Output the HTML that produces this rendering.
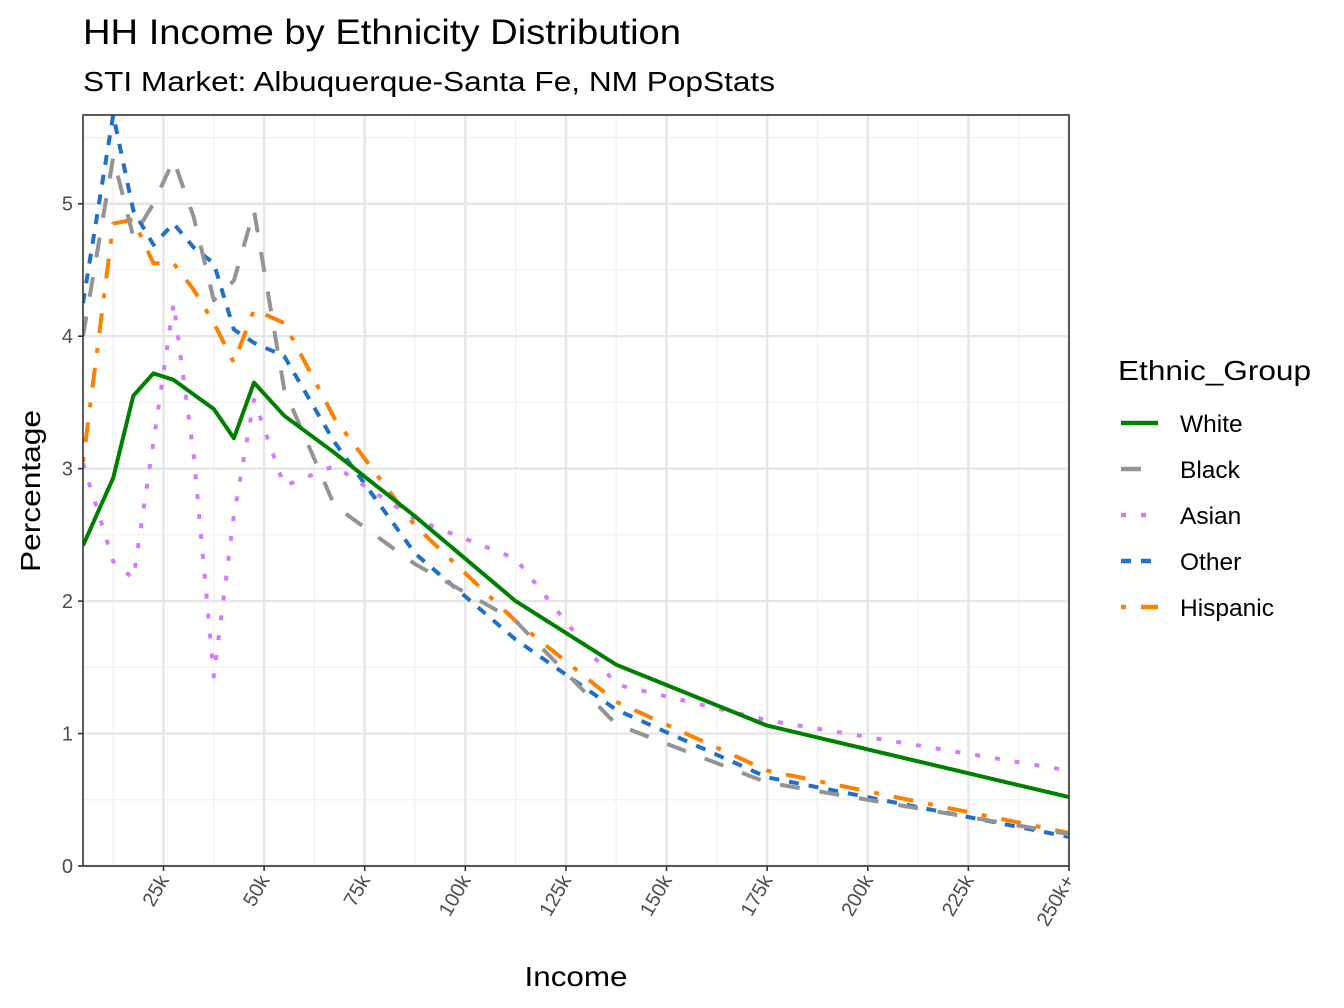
<!DOCTYPE html>
<html><head><meta charset="utf-8"><style>
body{margin:0;background:#fff}
svg{display:block;font-family:"Liberation Sans",Arial,sans-serif}
</style></head><body>
<svg id="chart" width="1344" height="1008" viewBox="0 0 1344 1008">
<text x="83" y="44" font-size="35" textLength="598" lengthAdjust="spacingAndGlyphs" fill="#000">HH Income by Ethnicity Distribution</text>
<text x="83" y="91" font-size="28" textLength="692" lengthAdjust="spacingAndGlyphs" fill="#000">STI Market: Albuquerque-Santa Fe, NM PopStats</text>
<g id="grid"></g>
<g id="lines"></g>
<rect x="83" y="115" width="986" height="751" fill="none" stroke="#333" stroke-width="1.6"/>
<g id="axes"></g>
<text x="40" y="491" font-size="28" textLength="162" lengthAdjust="spacingAndGlyphs" text-anchor="middle" transform="rotate(-90 40 491)">Percentage</text>
<text x="576" y="986" font-size="28" textLength="103" lengthAdjust="spacingAndGlyphs" text-anchor="middle">Income</text>
<g id="legend">
<text x="1118" y="380" font-size="28" textLength="193" lengthAdjust="spacingAndGlyphs">Ethnic_Group</text>
</g>
</svg>
<script>
const incomes = [5,12.5,17.5,22.5,27.5,32.5,37.5,42.5,47.5,55,67.5,87.5,112.5,137.5,175,250];
const white = [2.42,2.93,3.55,3.72,3.67,3.56,3.45,3.23,3.65,3.40,3.12,2.64,2.0,1.52,1.06,0.52];
const black = [4.0,5.35,4.75,5.0,5.33,4.9,4.27,4.42,4.95,3.6,2.72,2.28,1.85,1.07,0.63,0.24];
const asian = [3.04,2.3,2.17,3.2,4.25,3.1,1.43,2.65,3.52,2.87,3.02,2.62,2.32,1.37,1.1,0.72];
const other = [4.25,5.67,4.95,4.69,4.85,4.67,4.55,4.05,3.95,3.85,3.2,2.36,1.71,1.18,0.67,0.22];
const hispanic = [3.05,4.85,4.88,4.55,4.55,4.35,4.1,3.8,4.2,4.1,3.38,2.57,1.85,1.24,0.72,0.25];
const yTicks = [0,1,2,3,4,5];
const xTicks = [25,50,75,100,125,150,175,200,225,250];
const xTickLabels = ["25k","50k","75k","100k","125k","150k","175k","200k","225k","250k+"];
const seriesNames = ["White","Black","Asian","Other","Hispanic"];

const NS="http://www.w3.org/2000/svg";
const X0=83,X1=1069,Y0=866,Y1=115;
const xMin=5,xMax=250,yMin=0,yMax=5.67;
const xs=v=>X0+(v-xMin)/(xMax-xMin)*(X1-X0);
const ys=v=>Y0-(v-yMin)/(yMax-yMin)*(Y0-Y1);
function mk(tag,attrs,parent){const e=document.createElementNS(NS,tag);for(const k in attrs)e.setAttribute(k,attrs[k]);parent.appendChild(e);return e;}

const grid=document.getElementById('grid');
mk('rect',{x:X0,y:Y1,width:X1-X0,height:Y0-Y1,fill:'#fff'},grid);
for(let i=0;i<yTicks.length;i++){const m=yTicks[i]+0.5;if(m<yMax){const l=mk('line',{x1:X0,x2:X1,y1:ys(m),y2:ys(m),stroke:'#f0f0f0','stroke-width':1.2},grid);

}}
for(let i=0;i<xTicks.length;i++){const m=xTicks[i]-12.5;const l=mk('line',{x1:xs(m),x2:xs(m),y1:Y1,y2:Y0,stroke:'#f0f0f0','stroke-width':1.2},grid);

}
yTicks.forEach(t=>{const l=mk('line',{x1:X0,x2:X1,y1:ys(t),y2:ys(t),stroke:'#e6e6e6','stroke-width':2.4},grid);

});
xTicks.forEach(t=>{const l=mk('line',{x1:xs(t),x2:xs(t),y1:Y1,y2:Y0,stroke:'#e6e6e6','stroke-width':2.4},grid);

});

const styles=[
 {c:'#008000',d:'none',v:white,n:'line-white'},
 {c:'#949494',d:'20 20',v:black,n:'line-black'},
 {c:'#d17dfa',d:'5 15',v:asian,n:'line-asian'},
 {c:'#1f70c8',d:'10 10',v:other,n:'line-other'},
 {c:'#ff8000',d:'5 15 20 15',v:hispanic,n:'line-hispanic'}];
const lines=document.getElementById('lines');
const clip=mk('clipPath',{id:'pc'},mk('defs',{},lines));
mk('rect',{x:X0,y:Y1,width:X1-X0,height:Y0-Y1},clip);
[...styles].reverse().forEach(s=>{
 const d=incomes.map((x,i)=>(i?'L':'M')+xs(x).toFixed(1)+' '+ys(s.v[i]).toFixed(1)).join(' ');
 const p=mk('path',{d:d,fill:'none',stroke:s.c,'stroke-width':4,'stroke-dasharray':s.d,'stroke-linejoin':'round','clip-path':'url(#pc)'},lines);
 
 
});

const axes=document.getElementById('axes');
yTicks.forEach(t=>{
 mk('line',{x1:X0-5,x2:X0,y1:ys(t),y2:ys(t),stroke:'#333','stroke-width':1.6},axes);
 const tx=mk('text',{x:X0-10,y:ys(t)+7,'font-size':20,'text-anchor':'end',fill:'#4d4d4d'},axes);
 tx.textContent=t;
 
 
});
xTicks.forEach((t,i)=>{
 const x=xs(t);
 mk('line',{x1:x,x2:x,y1:Y0,y2:Y0+5,stroke:'#333','stroke-width':1.6},axes);
 const tx=mk('text',{x:x+6,y:Y0+14,'font-size':20,'text-anchor':'end',fill:'#4d4d4d',transform:`rotate(-60 ${x+6} ${Y0+14})`},axes);
 tx.textContent=xTickLabels[i];
 
 
});

const lg=document.getElementById('legend');
styles.forEach((s,i)=>{
 const y=423+i*46;
 const g=mk('g',{},lg);
 
 
 mk('line',{x1:1121,x2:1158,y1:y,y2:y,stroke:s.c,'stroke-width':4.5,'stroke-dasharray':s.d},g);
 const t=mk('text',{x:1180,y:y+9,'font-size':24.5,fill:'#000'},g);
 t.textContent=seriesNames[i];
});
</script>
</body></html>
